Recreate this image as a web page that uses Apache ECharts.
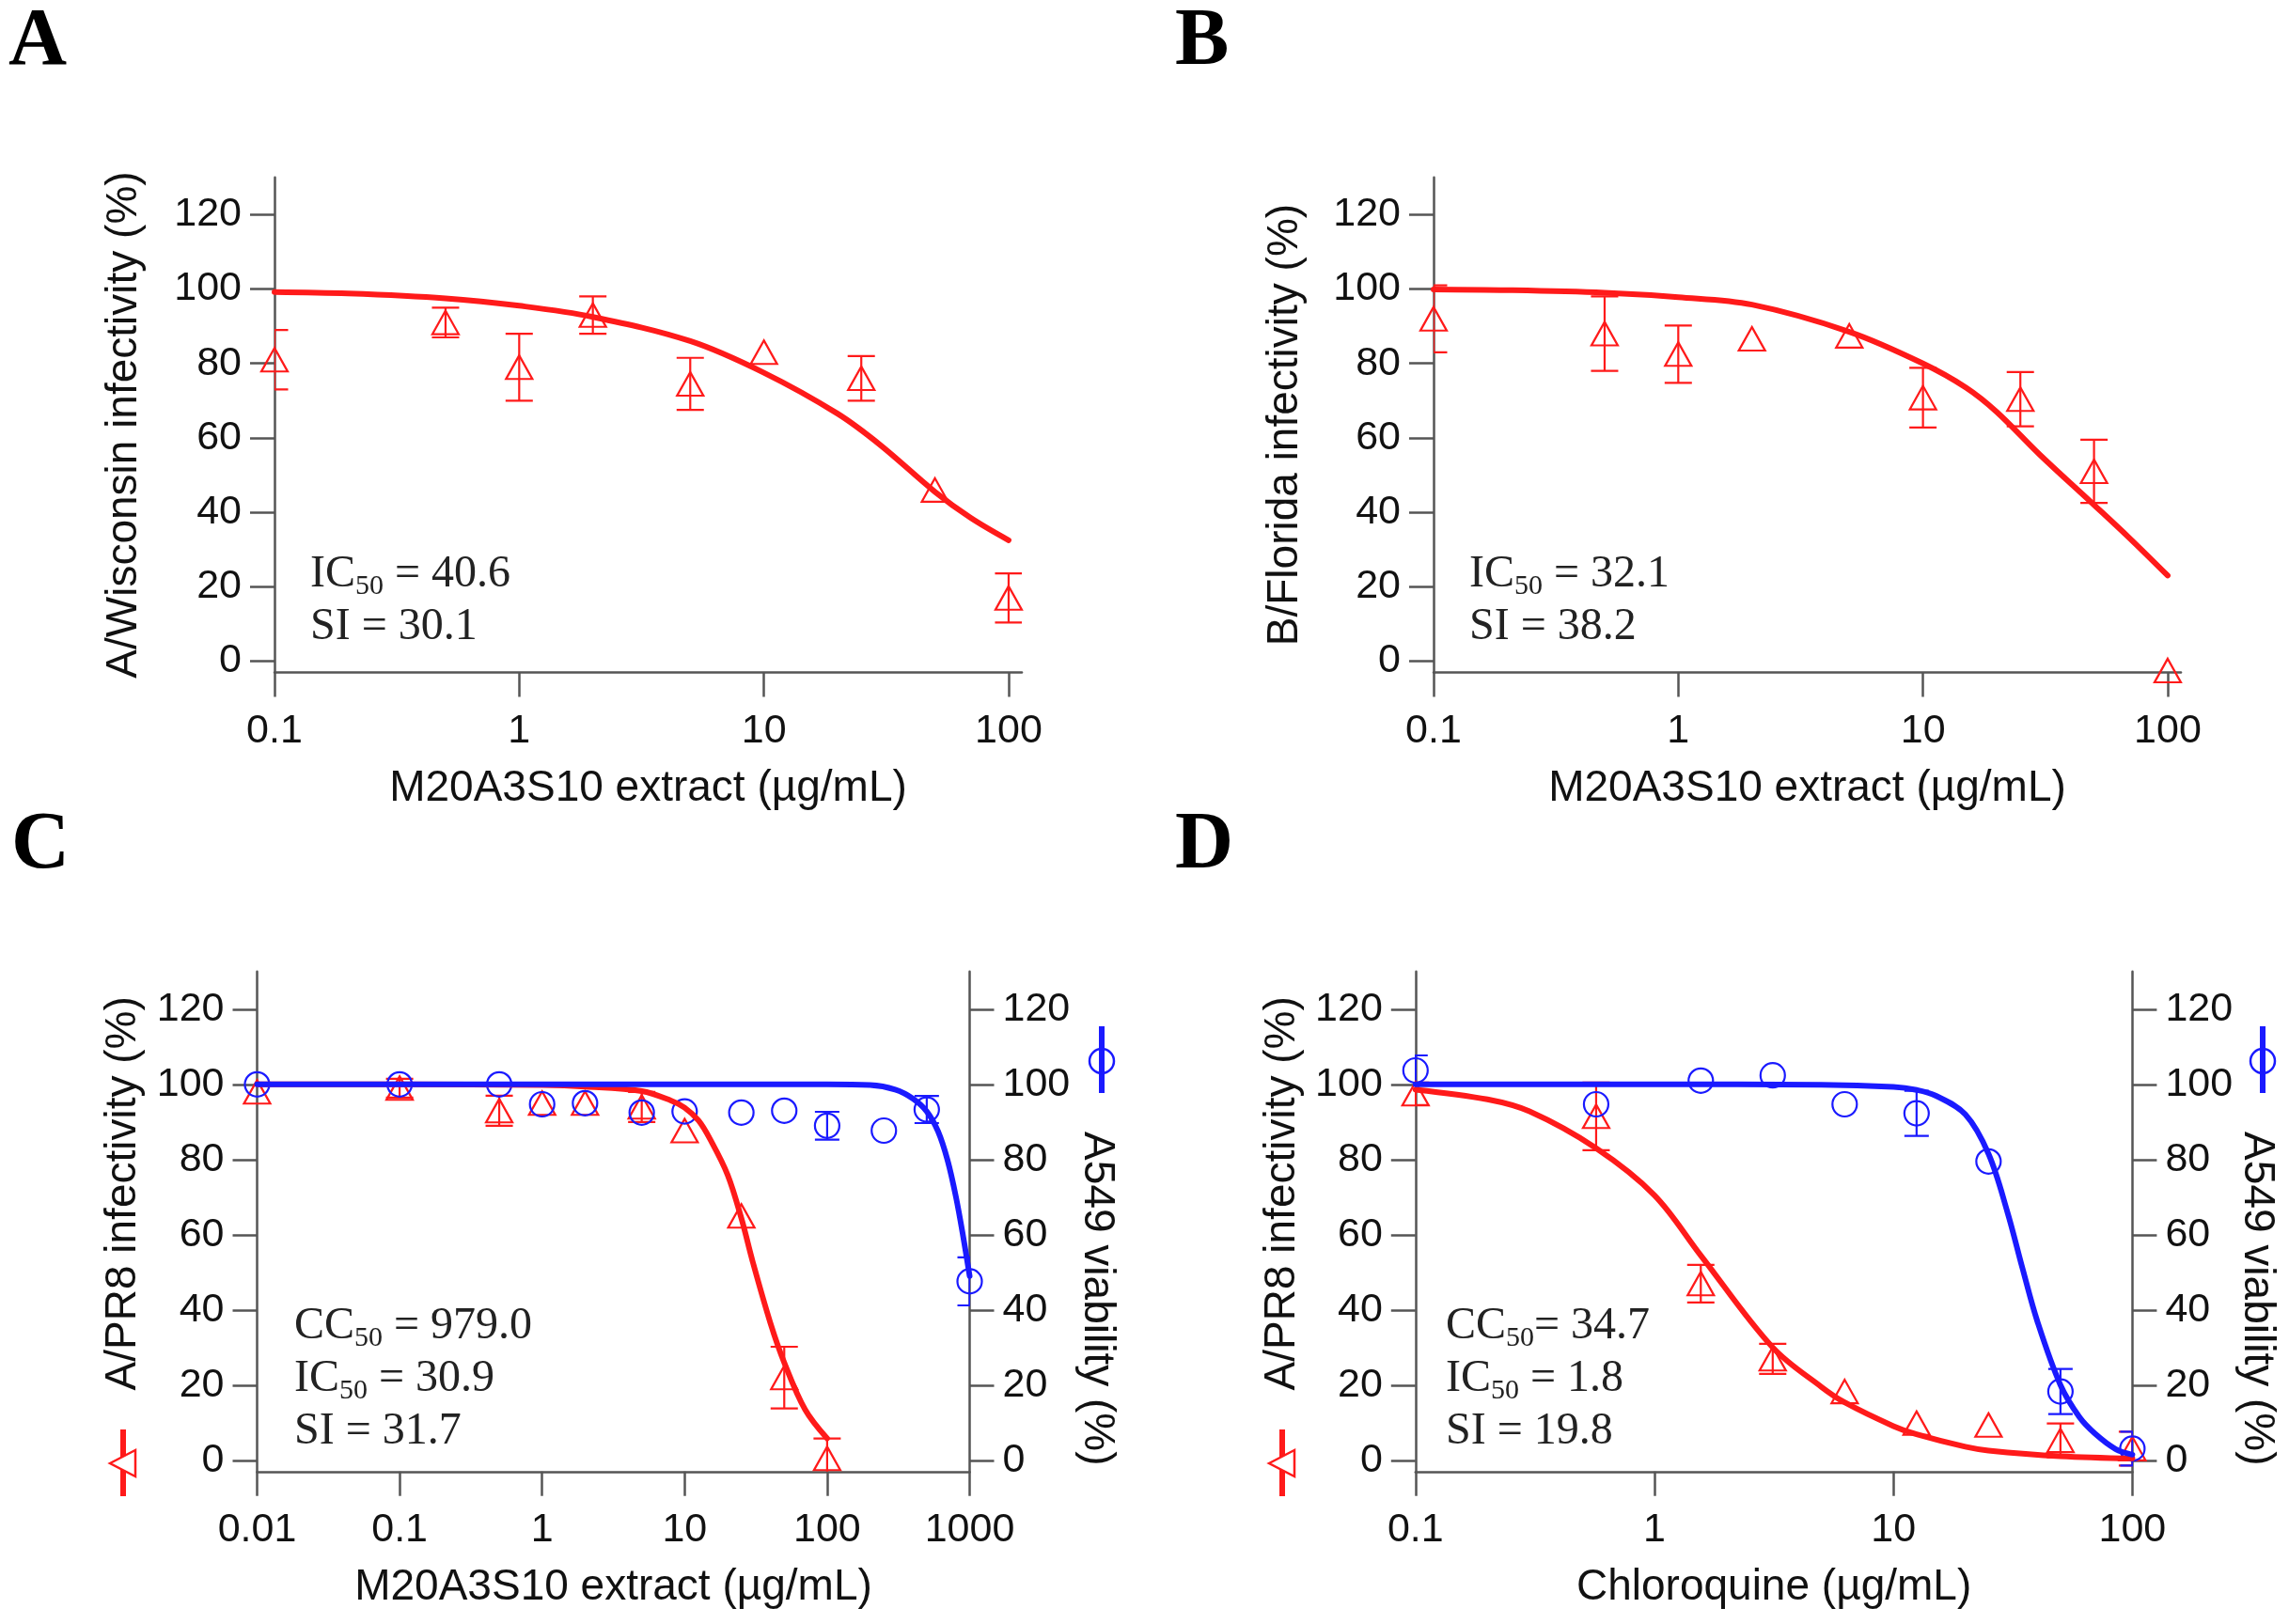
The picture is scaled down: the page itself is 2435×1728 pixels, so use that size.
<!DOCTYPE html>
<html><head><meta charset="utf-8">
<script src="https://cdn.jsdelivr.net/npm/echarts@6/dist/echarts.min.js"></script>
<style>html,body{margin:0;padding:0;background:#fff}#c{width:2435px;height:1728px}</style>
</head><body><div id="c"></div>
<script>
// ---------- data ----------
const yTicks = [0, 20, 40, 60, 80, 100, 120];
const xTicksAB = [0.1, 1, 10, 100];
const xTicksC = [0.01, 0.1, 1, 10, 100, 1000];
const xTicksD = [0.1, 1, 10, 100];

// Panel A
const concA = [0.1, 0.5, 1, 2, 5, 10, 25, 50, 100];
const infA = [81, 91, 79, 93, 74.5, 83, 76, 46, 17];
const errA = [8, 4, 9, 5, 7, 0, 6, 0, 6.6];
const fitAx = [0.1, 0.2, 0.5, 1, 2, 5, 10, 20, 30, 50, 70, 100];
const fitAy = [99.2, 98.8, 97.5, 95.5, 92.5, 86, 77.5, 66.5, 58, 45.5, 38.5, 32.5];

// Panel B
const concB = [0.1, 0.5, 1, 2, 5, 10, 25, 50, 100];
const infB = [92, 88, 82.5, 86.6, 87.4, 70.8, 70.4, 51, -2.5];
const errB = [9, 10, 7.7, 0, 0, 8, 7.3, 8.5, 0];
const fitBx = [0.1, 0.2, 0.5, 1, 2, 5, 10, 15, 20, 30, 50, 70, 100];
const fitBy = [99.9, 99.7, 99, 97.8, 95.8, 88.5, 80, 73.5, 67, 55.5, 42, 33, 23];

// Panel C
const concCinf = [0.01, 0.1, 0.5, 1, 2, 5, 10, 25, 50, 100];
const infC = [98, 99, 93, 95, 95, 94, 87.7, 65, 22, 0.5];
const errCinf = [0, 2.5, 4, 0, 0, 4, 0, 0, 8.2, 5.3];
const concCvia = [0.01, 0.1, 0.5, 1, 2, 5, 10, 25, 50, 100, 250, 500, 1000];
const viaC = [100, 100, 100, 94.7, 95, 92.5, 92.8, 92.5, 93, 89, 87.7, 93.3, 47.6];
const errCvia = [0, 0, 0, 0, 0, 0, 0, 0, 0, 3.7, 0, 3.6, 6.4];
const fitCinfx = [0.01, 0.1, 1, 2, 5, 8, 10, 12.5, 15, 20, 25, 30, 40, 50, 70, 100];
const fitCinfy = [100, 100, 99.8, 99.4, 98.2, 95.7, 93.8, 90.4, 85.6, 76, 64.4, 52.9, 36.5, 26, 13.5, 5.8];
const fitCviax = [0.01, 1, 10, 100, 200, 300, 400, 500, 600, 700, 800, 900, 1000];
const fitCviay = [100, 100, 100, 100, 99.8, 98.6, 96.2, 92.8, 87.5, 79.8, 70.2, 59.6, 49];

// Panel D
const concD = [0.1, 0.57, 1.5625, 3.125, 6.25, 12.5, 25, 50, 100];
const infD = [97.5, 91.5, 47, 27, 18.3, 9.9, 9.4, 5.3, 3.1];
const errDinf = [3, 9, 5, 4, 0, 0, 0, 4.5, 4.5];
const viaD = [103.7, 94.7, 101, 102.4, 94.7, 92.3, 79.5, 18.3, 3.1];
const errDvia = [4, 0, 0, 0, 0, 6, 0, 6, 4.5];
const fitDinfx = [0.1, 0.2, 0.3, 0.57, 1, 1.5625, 3.125, 5, 6.25, 10, 12.5, 20, 25, 50, 100];
const fitDinfy = [98.6, 96, 92.8, 83, 70.5, 54.5, 30, 19.5, 15.4, 9.1, 6.9, 3.6, 2.6, 1.1, 0.5];
const fitDviax = [0.1, 1, 5, 10, 12.5, 15, 20, 25, 30, 34.7, 40, 50, 60, 70, 85, 100];
const fitDviay = [100, 100, 99.9, 99.3, 98.5, 97, 92, 81.5, 66, 51, 37, 20, 11.5, 7, 3, 1.5];

// ---------- helpers ----------
const RED = '#ff1a1a', BLUE = '#1a1aff', AX = '#555555', TXT = '#111111';
const SANS = 'Liberation Sans, Arial, sans-serif';
const SERIF = 'Liberation Serif, Times New Roman, serif';
const L = v => +Math.log10(v).toFixed(10);

function xAxis(grid, min, max, ticks, name) {
  const tv = ticks.map(L);
  return {
    type: 'value', gridIndex: grid, min: min, max: max, position: 'bottom',
    axisLine: { onZero: false, lineStyle: { color: AX, width: 2.5 } },
    axisTick: { customValues: tv, length: 26, lineStyle: { color: AX, width: 2.5 } },
    axisLabel: { customValues: tv, margin: 41, fontSize: 43, color: TXT, fontFamily: SANS,
      formatter: v => String(Number(Math.pow(10, v).toPrecision(4))) },
    splitLine: { show: false },
    name: name, nameLocation: 'middle', nameGap: 101, nameMoveOverlap: false,
    nameTextStyle: { fontSize: 46, color: TXT, fontFamily: SANS }
  };
}
function yAxis(grid, pos, name, gap, rotate, padLeft) {
  return {
    type: 'value', gridIndex: grid, min: -3, max: 130, position: pos,
    axisLine: { show: true, onZero: false, lineStyle: { color: AX, width: 2.5 } },
    axisTick: { show: true, customValues: yTicks, length: 26, lineStyle: { color: AX, width: 2.5 } },
    axisLabel: { show: true, customValues: yTicks, margin: 35, fontSize: 43, color: TXT, fontFamily: SANS },
    splitLine: { show: false },
    name: name, nameLocation: 'middle', nameGap: gap, nameRotate: rotate, nameMoveOverlap: false,
    nameTextStyle: { fontSize: 46, color: TXT, fontFamily: SANS, padding: [0, 0, 0, padLeft] }
  };
}
function errSeries(xi, yi, xs, ys, es, color, capW) {
  const data = [];
  xs.forEach((x, i) => { if (es[i] > 0) data.push([L(x), ys[i] - es[i], ys[i] + es[i]]); });
  return {
    type: 'custom', xAxisIndex: xi, yAxisIndex: yi, data: data, z: 2, silent: true, clip: true,
    encode: { x: 0, y: [1, 2] },
    renderItem: function (params, api) {
      const x = api.value(0);
      const lo = api.coord([x, api.value(1)]);
      const hi = api.coord([x, api.value(2)]);
      const h = capW / 2;
      const st = { stroke: color, lineWidth: 2.2 };
      return { type: 'group', children: [
        { type: 'line', shape: { x1: lo[0], y1: lo[1], x2: hi[0], y2: hi[1] }, style: st },
        { type: 'line', shape: { x1: lo[0] - h, y1: lo[1], x2: lo[0] + h, y2: lo[1] }, style: st },
        { type: 'line', shape: { x1: hi[0] - h, y1: hi[1], x2: hi[0] + h, y2: hi[1] }, style: st }
      ] };
    }
  };
}
function ptSeries(xi, yi, xs, ys, color, sym) {
  return {
    type: 'scatter', xAxisIndex: xi, yAxisIndex: yi, z: 3, silent: true,
    symbol: sym, symbolSize: sym === 'triangle' ? [28, 25] : 26,
    itemStyle: { color: 'rgba(255,255,255,0)', borderColor: color, borderWidth: 2.2, opacity: 1 },
    emphasis: { disabled: true },
    data: xs.map((x, i) => [L(x), ys[i]])
  };
}
function fitSeries(xi, yi, xs, ys, color) {
  return {
    type: 'line', xAxisIndex: xi, yAxisIndex: yi, z: 4, silent: true,
    showSymbol: false, symbol: 'none', smooth: 0.35,
    lineStyle: { color: color, width: 6, cap: 'round', join: 'round' },
    emphasis: { disabled: true },
    data: xs.map((x, i) => [L(x), ys[i]])
  };
}
function statText(x, y, lines) {
  return {
    type: 'text', x: x, y: y, silent: true,
    style: {
      text: lines.join('\n'), fill: '#222',
      rich: {
        n: { fontSize: 48, fontFamily: SERIF, lineHeight: 56, fill: '#222', color: '#222' },
        s: { fontSize: 30, fontFamily: SERIF, lineHeight: 30, verticalAlign: 'bottom', fill: '#222', color: '#222' }
      }
    }
  };
}
function letter(x, y, t) {
  return { type: 'text', x: x, y: y, silent: true,
    style: { text: t, fontSize: 86, fontWeight: 'bold', fontFamily: SERIF, fill: '#000', verticalAlign: 'middle', align: 'left' } };
}
function redKey(cx, cy) {
  return [
    { type: 'line', silent: true, shape: { x1: cx, y1: cy - 36, x2: cx, y2: cy + 35 }, style: { stroke: RED, lineWidth: 6 } },
    { type: 'polygon', silent: true, shape: { points: [[cx - 14, cy], [cx + 13, cy - 14], [cx + 13, cy + 14]] },
      style: { fill: '#fff', stroke: RED, lineWidth: 2.5 } }
  ];
}
function blueKey(cx, cy) {
  return [
    { type: 'line', silent: true, shape: { x1: cx, y1: cy - 37, x2: cx, y2: cy + 34 }, style: { stroke: BLUE, lineWidth: 6 } },
    { type: 'circle', silent: true, shape: { cx: cx, cy: cy, r: 13 }, style: { fill: 'none', stroke: BLUE, lineWidth: 2.5 } }
  ];
}

const xName = 'M20A3S10 extract (µg/mL)';
const option = {
  animation: false,
  backgroundColor: '#ffffff',
  textStyle: { fontFamily: SANS },
  grid: [
    { left: 292, top: 188.7, width: 795, height: 526.7, containLabel: false, outerBoundsMode: 'none' },
    { left: 1525, top: 188.7, width: 795, height: 526.7, containLabel: false, outerBoundsMode: 'none' },
    { left: 273.5, top: 1033.8, width: 758, height: 532, containLabel: false, outerBoundsMode: 'none' },
    { left: 1505.8, top: 1033.8, width: 762.6, height: 532, containLabel: false, outerBoundsMode: 'none' }
  ],
  xAxis: [
    xAxis(0, -1, 2.054, xTicksAB, xName),
    xAxis(1, -1, 2.054, xTicksAB, xName),
    xAxis(2, -2, 3, xTicksC, xName),
    xAxis(3, -1, 2, xTicksD, 'Chloroquine (µg/mL)')
  ],
  yAxis: [
    yAxis(0, 'left', 'A/Wisconsin infectivity (%)', 137, 90, 0),
    yAxis(1, 'left', 'B/Florida infectivity (%)', 135, 90, 0),
    yAxis(2, 'left', 'A/PR8 infectivity (%)', 119, 90, 60),
    yAxis(2, 'right', 'A549 viability (%)', 112, -90, 164),
    yAxis(3, 'left', 'A/PR8 infectivity (%)', 118, 90, 60),
    yAxis(3, 'right', 'A549 viability (%)', 109, -90, 164)
  ],
  series: [
    errSeries(0, 0, concA, infA, errA, RED, 29),
    ptSeries(0, 0, concA, infA, RED, 'triangle'),
    fitSeries(0, 0, fitAx, fitAy, RED),

    errSeries(1, 1, concB, infB, errB, RED, 29),
    ptSeries(1, 1, concB, infB, RED, 'triangle'),
    fitSeries(1, 1, fitBx, fitBy, RED),

    errSeries(2, 2, concCinf, infC, errCinf, RED, 29),
    errSeries(2, 3, concCvia, viaC, errCvia, BLUE, 26),
    ptSeries(2, 2, concCinf, infC, RED, 'triangle'),
    ptSeries(2, 3, concCvia, viaC, BLUE, 'circle'),
    fitSeries(2, 2, fitCinfx, fitCinfy, RED),
    fitSeries(2, 3, fitCviax, fitCviay, BLUE),

    errSeries(3, 4, concD, infD, errDinf, RED, 29),
    errSeries(3, 5, concD, viaD, errDvia, BLUE, 26),
    ptSeries(3, 4, concD, infD, RED, 'triangle'),
    ptSeries(3, 5, concD, viaD, BLUE, 'circle'),
    fitSeries(3, 4, fitDinfx, fitDinfy, RED),
    fitSeries(3, 5, fitDviax, fitDviay, BLUE)
  ],
  graphic: [
    letter(9, 46, 'A'), letter(1250, 46, 'B'), letter(12, 901, 'C'), letter(1250, 901, 'D'),
    statText(330, 583, ['{n|IC}{s|50}{n| = 40.6}', '{n|SI = 30.1}']),
    statText(1563, 583, ['{n|IC}{s|50}{n| = 32.1}', '{n|SI = 38.2}']),
    statText(313, 1383, ['{n|CC}{s|50}{n| = 979.0}', '{n|IC}{s|50}{n| = 30.9}', '{n|SI = 31.7}']),
    statText(1538, 1383, ['{n|CC}{s|50}{n|= 34.7}', '{n|IC}{s|50}{n| = 1.8}', '{n|SI = 19.8}'])
  ].concat(redKey(131, 1557), redKey(1364, 1557), blueKey(1172, 1129), blueKey(2407, 1129))
};

const chart = echarts.init(document.getElementById('c'), null, { renderer: 'canvas' });
chart.setOption(option);
</script>
</body></html>
